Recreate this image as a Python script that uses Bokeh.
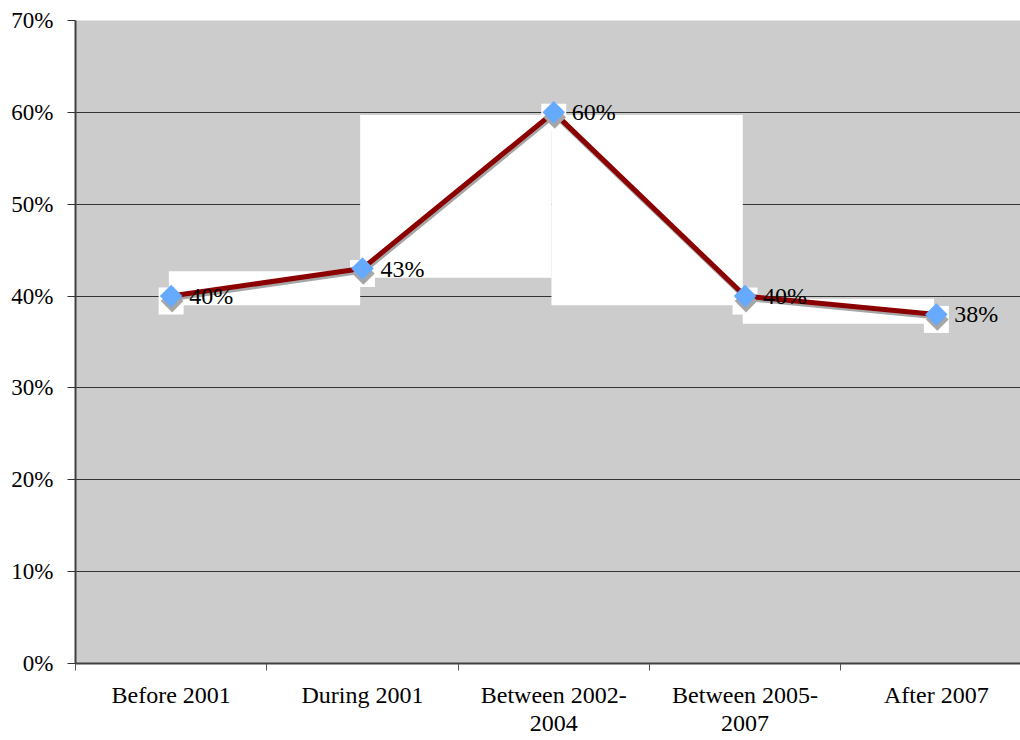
import numpy as np
from bokeh.plotting import figure
from bokeh.models import FixedTicker, Range1d, PrintfTickFormatter
from bokeh.core.properties import value
from bokeh.embed import file_html
from bokeh.resources import INLINE

# --- data -------------------------------------------------------------
periods = ["Before 2001", "During 2001", "Between 2002-\n2004",
           "Between 2005-\n2007", "After 2007"]
shares = [40, 43, 60, 40, 38]          # percent
y_ticks = [0, 10, 20, 30, 40, 50, 60, 70]

# --- geometry helpers -------------------------------------------------
FRAME_LEFT, FRAME_TOP, FRAME_BOTTOM = 75, 20, 663
W, H = 1020, 740
CAT_PX = 191.3                          # width of one category slot
Y_MAX = 70
PX_PER_PCT = (FRAME_BOTTOM - FRAME_TOP) / Y_MAX

xs = np.arange(len(periods)) + 0.5
ys = np.array(shares, dtype=float)

p = figure(width=W, height=H,
           x_range=Range1d(0, (W - FRAME_LEFT) / CAT_PX),
           y_range=Range1d(0, Y_MAX),
           output_backend="svg", toolbar_location=None,
           min_border_left=FRAME_LEFT, min_border_right=0,
           min_border_top=FRAME_TOP, min_border_bottom=H - FRAME_BOTTOM,
           background_fill_color="#cccccc", border_fill_color="white",
           outline_line_color=None)

# --- axes ---------------------------------------------------------------
label_font = "Liberation Serif"

xa = p.xaxis[0]
xa.ticker = FixedTicker(ticks=list(xs), minor_ticks=list(range(len(periods) + 1)))
xa.major_label_overrides = {float(x): lab for x, lab in zip(xs, periods)}
xa.major_tick_out = 0
xa.major_tick_in = 0
xa.minor_tick_out = 7
xa.minor_tick_in = 0
xa.minor_tick_line_color = "#555555"
xa.major_label_standoff = 11
xa.major_label_text_font = label_font
xa.major_label_text_font_size = "24px"
xa.major_label_text_line_height = 1.1
xa.major_label_text_color = "black"
xa.major_label_text_align = "center"
xa.axis_line_color = "#404040"
xa.axis_line_width = 2

ya = p.yaxis[0]
ya.ticker = FixedTicker(ticks=y_ticks)
ya.formatter = PrintfTickFormatter(format="%d%%")
ya.major_tick_out = 8
ya.major_tick_in = 0
ya.minor_tick_line_color = None
ya.major_tick_line_color = "#333333"
ya.major_label_standoff = 14
ya.major_label_text_font = label_font
ya.major_label_text_font_size = "23px"
ya.major_label_text_color = "black"
ya.axis_line_color = "#404040"
ya.axis_line_width = 2

p.xgrid.visible = False
p.ygrid.ticker = FixedTicker(ticks=y_ticks)
p.ygrid.grid_line_color = "#333333"
p.ygrid.grid_line_width = 1

# --- white backing panels behind each segment and marker -----------------
seg_left = xs[:-1] - 0.012
seg_right = xs[1:] - 0.012
seg_top = np.maximum(ys[:-1], ys[1:]) - 0.3
seg_bottom = np.minimum(ys[:-1], ys[1:]) - 1.0
p.quad(left=seg_left, right=seg_right, top=seg_top, bottom=seg_bottom,
       fill_color="white", line_color=None)

p.rect(x=xs, y=ys - 5 / PX_PER_PCT, width=25, height=27,
       width_units="screen", height_units="screen",
       fill_color="white", line_color=None)

# --- series with drop shadow ------------------------------------------------
p.line(xs + 0.006, ys - 2.5 / PX_PER_PCT, line_color="#a6a6a6", line_width=5)
p.line(xs, ys, line_color="#8b0000", line_width=5)

p.scatter(xs + 0.005, ys - 5 / PX_PER_PCT, marker="square", angle=np.pi / 4,
          size=16, fill_color="#a6a6a6", line_color=None)
p.scatter(xs, ys, marker="square", angle=np.pi / 4,
          size=16, fill_color="#66aaff", line_color=None)

# --- value labels -------------------------------------------------------------
p.text(x=xs, y=ys, text=[f"{v}%" for v in shares], x_offset=18,
       text_baseline="middle", text_align="left",
       text_font=value(label_font), text_font_size="24px",
       text_color="black")

open("out.html", "w").write(file_html(p, INLINE))
